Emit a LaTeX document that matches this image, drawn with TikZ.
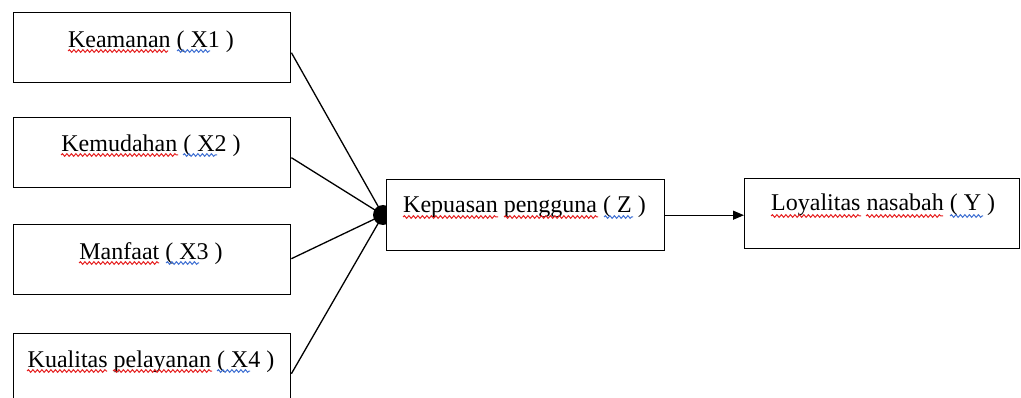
\documentclass[tikz,border=0pt]{standalone}
\usepackage{fontspec}
\setmainfont{Liberation Serif}
\usetikzlibrary{arrows.meta,decorations.pathmorphing}
\tikzset{
  box/.style={draw=black, line width=1.4pt, fill=white, inner sep=0pt, anchor=north west},
  lbl/.style={anchor=base, inner sep=0pt, font=\fontsize{24pt}{28pt}\selectfont},
  lblw/.style={anchor=base west, inner sep=0pt, font=\fontsize{24pt}{28pt}\selectfont},
  conn/.style={draw=black, line width=1.3pt},
  wred/.style={draw={rgb,255:red,230;green,30;blue,30}, line width=1pt, decorate, decoration={snake, segment length=4.5pt, amplitude=1.3pt}},
  wblue/.style={draw={rgb,255:red,60;green,110;blue,210}, line width=1pt, decorate, decoration={snake, segment length=4.5pt, amplitude=1.3pt}}
}
\begin{document}
\begin{tikzpicture}[x=1pt,y=-1pt]
\useasboundingbox (0,0) rectangle (1021,398);
\clip (0,0) rectangle (1021,398);
% left boxes
\node[box, minimum width=277pt, minimum height=70pt] (x1) at (13,12) {};
\node[box, minimum width=277pt, minimum height=70pt] (x2) at (13,117) {};
\node[box, minimum width=277pt, minimum height=70pt] (x3) at (13,224) {};
\node[box, minimum width=277pt, minimum height=80pt] (x4) at (13,333) {};
% hub
\coordinate (hub) at (383,215);
\fill[black] (hub) circle (10pt);
% connectors
\draw[conn] ([yshift=-5pt]x1.east) -- (hub);
\draw[conn] ([yshift=-5pt]x2.east) -- (hub);
\draw[conn] ([yshift=1pt]x3.east) -- (hub);
\draw[conn] (x4.east) -- (hub);
% right boxes
\node[box, minimum width=278pt, minimum height=71pt] (z) at (386,179) {};
\node[box, minimum width=275pt, minimum height=70pt] (y) at (744,178) {};
\draw[conn, -{Triangle[length=11pt,width=9pt]}] (z.east) -- (z.east -| y.west);
% labels
\node[lbl] (t1) at (151,48) {Keamanan ( X1 )};
\node[lbl] (t2) at (151,152) {Kemudahan ( X2 )};
\node[lbl] (t3) at (151,260) {Manfaat ( X3 )};
\node[lbl] (t4) at (151,367) {Kualitas pelayanan ( X4 )};
\node[lblw] (tz) at (403,213) {Kepuasan pengguna ( Z )};
\node[lblw] (ty) at (771,211) {Loyalitas nasabah ( Y )};
% spell-check squiggles
\draw[wred] (68,51) -- (168,51);
\draw[wblue] (177,51) -- (210,51);
\draw[wred] (61,155) -- (178,155);
\draw[wblue] (183,155) -- (217,155);
\draw[wred] (79,263) -- (159,263);
\draw[wblue] (166,263) -- (199,263);
\draw[wred] (27,371) -- (107,371);
\draw[wred] (113,371) -- (212,371);
\draw[wblue] (217,371) -- (250,371);
\draw[wred] (403,217) -- (498,217);
\draw[wred] (504,217) -- (598,217);
\draw[wblue] (604,217) -- (633,217);
\draw[wred] (771,216) -- (861,216);
\draw[wred] (866,216) -- (943,216);
\draw[wblue] (950,216) -- (983,216);
\end{tikzpicture}
\end{document}
